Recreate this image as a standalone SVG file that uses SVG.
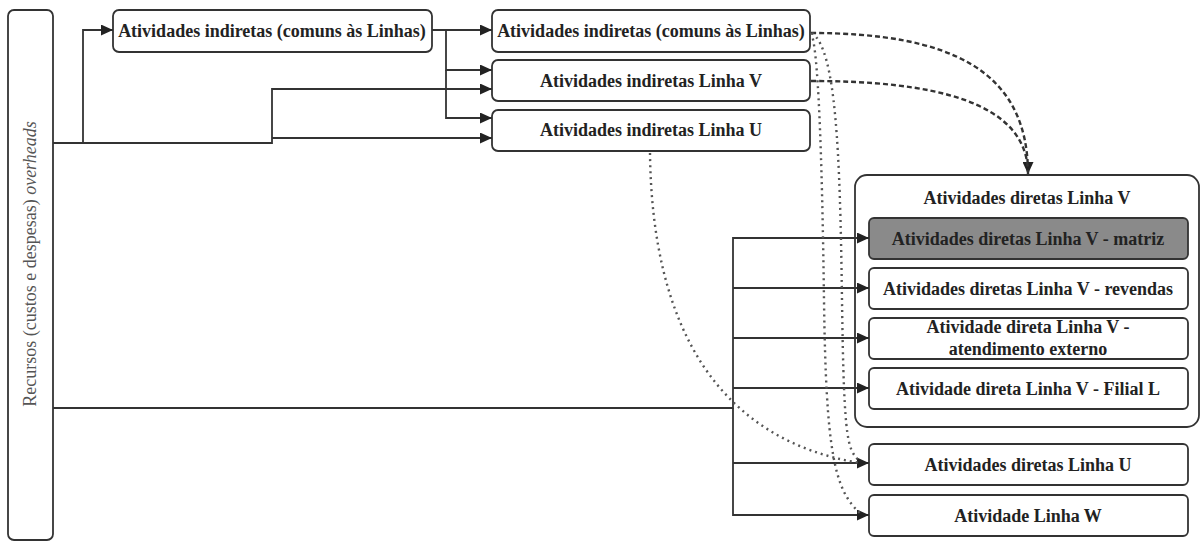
<svg xmlns="http://www.w3.org/2000/svg" width="1201" height="542" viewBox="0 0 1201 542">
<style>
.box{fill:#fff;stroke:#333;stroke-width:1.8}
.dark{fill:#8a8a8a}
.t{font-family:"Liberation Serif","Times New Roman",serif;font-size:18px;font-weight:bold;fill:#222;text-anchor:middle}
.side{font-family:"Liberation Serif","Times New Roman",serif;font-size:18px;fill:#555;text-anchor:middle}
.c{fill:none;stroke:#333;stroke-width:1.8}
.dash{fill:none;stroke:#333;stroke-width:2.4;stroke-dasharray:5 3}
.dot{fill:none;stroke:#555;stroke-width:2.4;stroke-dasharray:2 4}
</style>
<defs>
<marker id="ah" markerUnits="userSpaceOnUse" markerWidth="13" markerHeight="11" refX="12" refY="5.5" orient="auto">
<path d="M0,0 L12,5.5 L0,11 Z" fill="#222"/>
</marker>
</defs>
<rect width="1201" height="542" fill="#fff"/>

<g id="recursos">
<rect class="box" x="8" y="10" width="45" height="530" rx="6"/>
<text class="side" transform="translate(36,264) rotate(-90)">Recursos (custos e despesas) <tspan font-style="italic">overheads</tspan></text>
</g>

<g id="ind-comuns-1">
<rect class="box" x="113" y="10" width="319" height="42" rx="6"/>
<text class="t" x="272" y="37">Atividades indiretas (comuns às Linhas)</text>
</g>

<g id="ind-comuns-2">
<rect class="box" x="492" y="10" width="318" height="42" rx="6"/>
<text class="t" x="651" y="37">Atividades indiretas (comuns às Linhas)</text>
</g>

<g id="ind-linha-v">
<rect class="box" x="492" y="60" width="318" height="41" rx="6"/>
<text class="t" x="651" y="87">Atividades indiretas Linha V</text>
</g>

<g id="ind-linha-u">
<rect class="box" x="492" y="110" width="318" height="41" rx="6"/>
<text class="t" x="651" y="136">Atividades indiretas Linha U</text>
</g>

<g id="diretas-v">
<rect class="box" x="855" y="175" width="344" height="252" rx="12"/>
<text class="t" x="1027" y="204">Atividades diretas Linha V</text>
</g>

<g id="dir-v-matriz">
<rect class="box dark" x="869" y="218" width="319" height="41" rx="5"/>
<text class="t" x="1028" y="245">Atividades diretas Linha V - matriz</text>
</g>

<g id="dir-v-revendas">
<rect class="box" x="869" y="268" width="319" height="41" rx="5"/>
<text class="t" x="1028" y="295">Atividades diretas Linha V - revendas</text>
</g>

<g id="dir-v-externo">
<rect class="box" x="869" y="318" width="319" height="41" rx="5"/>
<text class="t" x="1028" y="333">Atividade direta Linha V -</text>
<text class="t" x="1028" y="355">atendimento externo</text>
</g>

<g id="dir-v-filial">
<rect class="box" x="869" y="368" width="319" height="41" rx="5"/>
<text class="t" x="1028" y="395">Atividade direta Linha V - Filial L</text>
</g>

<g id="dir-u">
<rect class="box" x="869" y="444" width="319" height="41" rx="5"/>
<text class="t" x="1028" y="471">Atividades diretas Linha U</text>
</g>

<g id="linha-w">
<rect class="box" x="869" y="495" width="319" height="41" rx="5"/>
<text class="t" x="1028" y="522">Atividade Linha W</text>
</g>

<g id="connectors">
<path class="c" d="M53,143 H83 V30 H113" marker-end="url(#ah)"/>
<path class="c" d="M83,143 H272 V89 H492" marker-end="url(#ah)"/>
<path class="c" d="M272,138 H492" marker-end="url(#ah)"/>
<path class="c" d="M432,30 H492" marker-end="url(#ah)"/>
<path class="c" d="M446,30 V70 H492" marker-end="url(#ah)"/>
<path class="c" d="M446,70 V118 H492" marker-end="url(#ah)"/>
<path class="c" d="M53,408 H733 V238 H869" marker-end="url(#ah)"/>
<path class="c" d="M733,288 H869" marker-end="url(#ah)"/>
<path class="c" d="M733,338 H869" marker-end="url(#ah)"/>
<path class="c" d="M733,388 H869" marker-end="url(#ah)"/>
<path class="c" d="M733,408 V515 H869" marker-end="url(#ah)"/>
<path class="c" d="M733,463 H869" marker-end="url(#ah)"/>
<path class="dash" d="M811,33 C950,33 1028,70 1028,174" marker-end="url(#ah)"/>
<path class="dash" d="M811,81 C930,81 1028,100 1028,174"/>
<path class="dot" d="M650,153 C652,330 720,440 860,463"/>
<path class="dot" d="M812,33 C836,50 840,150 842,300 S848,448 860,462"/>
<path class="dot" d="M811,33 C818,45 822,150 824,300 S834,490 860,513"/>
</g>
</svg>
